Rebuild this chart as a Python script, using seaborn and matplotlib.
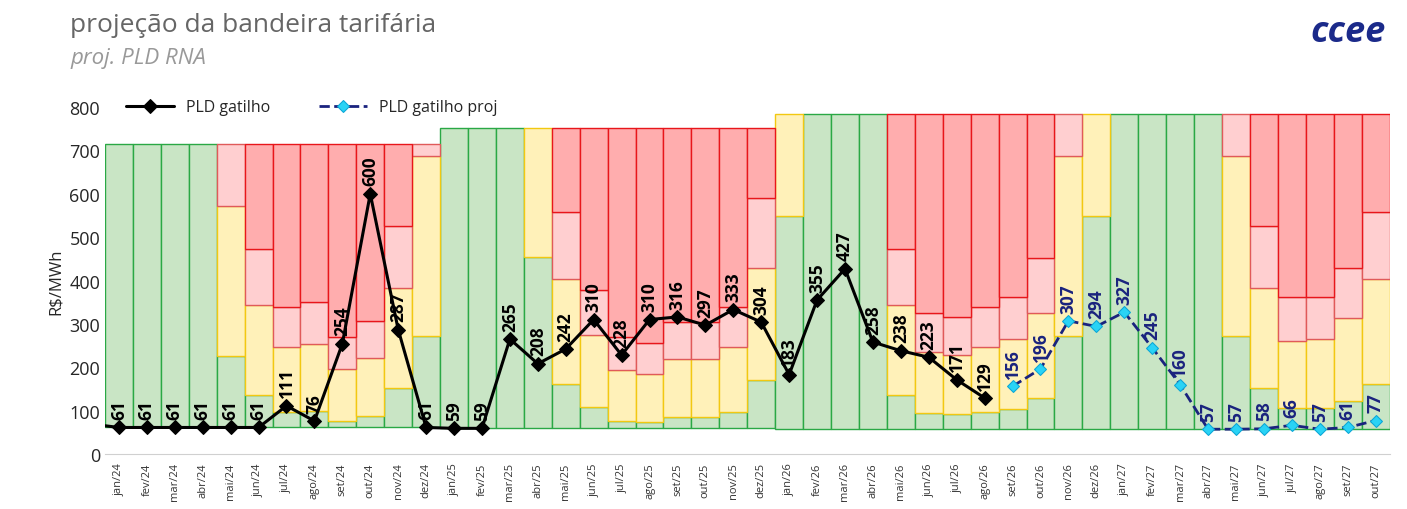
import numpy as np
import matplotlib
matplotlib.use("Agg")
import matplotlib.pyplot as plt
import seaborn as sns

# months
months = (["jan/24", "fev/24", "mar/24", "abr/24", "mai/24", "jun/24", "jul/24", "ago/24", "set/24", "out/24", "nov/24", "dez/24",
           "jan/25", "fev/25", "mar/25", "abr/25", "mai/25", "jun/25", "jul/25", "ago/25", "set/25", "out/25", "nov/25", "dez/25",
           "jan/26", "fev/26", "mar/26", "abr/26", "mai/26", "jun/26", "jul/26", "ago/26", "set/26", "out/26", "nov/26", "dez/26",
           "jan/27", "fev/27", "mar/27", "abr/27", "mai/27", "jun/27", "jul/27", "ago/27", "set/27", "out/27"])

# floor / ceiling of PLD
floor = [61] * 12 + [59] * 12 + [57] * 22
ceiling = [716] * 12 + [752] * 12 + [785] * 22

# upper limit of each band (green, yellow, pink); red goes up to the ceiling
green_top = [716, 716, 716, 716, 226, 137, 97, 100, 77, 87, 151, 273,
             752, 752, 752, 455, 161, 108, 77, 73, 86, 86, 96, 170,
             548, 785, 785, 785, 136, 94, 91, 97, 104, 129, 273, 548,
             785, 785, 785, 785, 273, 151, 105, 105, 123, 161]
yellow_top = [716, 716, 716, 716, 572, 343, 246, 253, 196, 221, 382, 687,
              752, 752, 752, 752, 403, 274, 194, 184, 220, 220, 246, 429,
              785, 785, 785, 785, 343, 236, 228, 246, 265, 326, 687, 785,
              785, 785, 785, 785, 687, 382, 261, 265, 313, 403]
pink_top = [716, 716, 716, 716, 716, 472, 338, 351, 270, 306, 526, 716,
            752, 752, 752, 752, 558, 378, 269, 255, 305, 305, 338, 591,
            785, 785, 785, 785, 472, 326, 315, 338, 363, 451, 785, 785,
            785, 785, 785, 785, 785, 526, 363, 363, 430, 557]

pld = [61, 61, 61, 61, 61, 61, 111, 76, 254, 600, 287, 61,
       59, 59, 265, 208, 242, 310, 228, 310, 316, 297, 333, 304,
       183, 355, 427, 258, 238, 223, 171, 129]
pld_proj = [156, 196, 307, 294, 327, 245, 160, 57, 57, 58, 66, 57, 61, 77]

sns.set_style("white")
plt.rcParams["font.family"] = ["Open Sans", "DejaVu Sans"]

fig = plt.figure(figsize=(14.07, 5.10), dpi=100)
ax = fig.add_axes([0.0746, 0.108, 0.913, 0.680])

x = np.arange(len(months))
fl = np.array(floor)
g = np.array(green_top)
yl = np.array(yellow_top)
pk = np.array(pink_top)
cl = np.array(ceiling)

bands = [
    (fl, g, "#c9e5c5", "#2aa845"),
    (g, yl, "#fff1b9", "#f2c811"),
    (yl, pk, "#ffcfd0", "#e05a5a"),
    (pk, cl, "#ffadae", "#e8161b"),
]
for lo, hi, fc, ec in bands:
    h = hi - lo
    m = h > 0
    ax.bar(x[m], h[m], bottom=lo[m], width=1.0, color=fc, edgecolor=ec, linewidth=1.0, zorder=1)

xp = x[:len(pld)]
sns.lineplot(x=xp, y=pld, ax=ax, color="black", marker="D", markersize=7, linewidth=2.2,
             markeredgecolor="black", label="PLD gatilho", zorder=3)
xq = x[len(pld):]
sns.lineplot(x=xq, y=pld_proj, ax=ax, color="#1a237e", linestyle="--", marker="D", markersize=6,
             markerfacecolor="#29d3f5", markeredgecolor="#0aa6d6", linewidth=2.0,
             label="PLD gatilho proj", zorder=3)
ax.plot([-0.5, 0], [65, 61], color="black", linewidth=2.2, zorder=3)

for xi, v in zip(xp, pld):
    ax.annotate(str(v), (xi, v), xytext=(0, 6), textcoords="offset points", rotation=90,
                ha="center", va="bottom", fontsize=12.5, fontweight="bold", color="black", zorder=4)
for xi, v in zip(xq, pld_proj):
    ax.annotate(str(v), (xi, v), xytext=(0, 6), textcoords="offset points", rotation=90,
                ha="center", va="bottom", fontsize=12.5, fontweight="bold", color="#1a237e", zorder=4)

ax.set_xlim(-0.5, len(months) - 0.5)
ax.set_ylim(0, 800)
ax.set_yticks(range(0, 801, 100))
ax.tick_params(axis="y", labelsize=13, length=0)
ax.set_xticks(x)
ax.set_xticklabels(months, rotation=90, fontsize=8, color="#333333")
ax.tick_params(axis="x", length=0, pad=6)
ax.set_xticks(np.arange(-0.5, len(months), 1), minor=True)
ax.tick_params(axis="x", which="minor", length=5, color="#cccccc")
for s in ["top", "right", "left"]:
    ax.spines[s].set_visible(False)
ax.spines["bottom"].set_color("#d0d0d0")
ax.set_ylabel("R$/MWh", fontsize=12)
ax.set_xlabel("")

ax.legend(loc="center left", bbox_to_anchor=(0.005, 1.0), ncol=2, frameon=False, fontsize=11.5,
          columnspacing=3, handlelength=3)

fig.text(0.05, 0.95, "projeção da bandeira tarifária", fontsize=19, color="#666666", va="center")
fig.text(0.05, 0.885, "proj. PLD RNA", fontsize=16, color="#999999", style="italic", va="center")
fig.text(0.985, 0.935, "ccee", fontsize=26, color="#1b2a8a", fontweight="bold", style="italic",
         ha="right", va="center")

fig.savefig("out.png", dpi=100)
